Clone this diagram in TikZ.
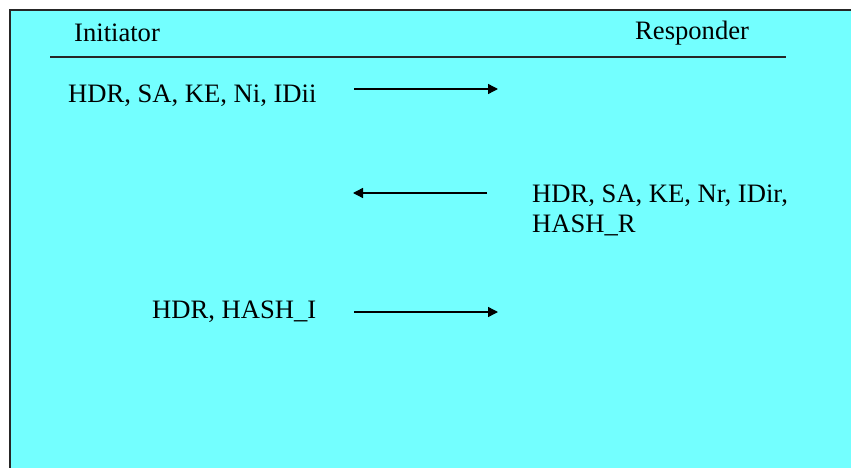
\documentclass[tikz,border=0pt]{standalone}
\usepackage{fontspec}
\setmainfont{Liberation Serif}
\usetikzlibrary{arrows.meta}
\definecolor{bgcyan}{RGB}{115,255,255}
\begin{document}
\begin{tikzpicture}[x=1pt,y=-1pt,
  lbl/.style={anchor=base west,inner sep=0pt,font=\fontsize{26.6}{30}\selectfont},
  msg/.style={line width=1.4pt,-{Triangle[length=10pt,width=10pt]}},
  frame/.style={line width=2pt,draw=black!85}]
\useasboundingbox (0,0) rectangle (851,468);
\fill[bgcyan] (10,10) rectangle (851,468);
\draw[frame] (10,468) -- (10,10) -- (851,10);
% headers
\node[lbl] (init) at (74,42) {Initiator};
\node[lbl] (resp) at (635,40) {Responder};
\coordinate (hl) at (50,57);
\coordinate (hr) at (786,57);
\draw[line width=1.5pt,draw=black!85] (hl) -- (hr);
% message 1
\node[lbl] (m1) at (68,103) {HDR, SA, KE, Ni, IDii};
\coordinate (a1s) at (354,89);
\coordinate (a1e) at (498,89);
\draw[msg] (a1s) -- (a1e);
% message 2
\node[lbl] (m2) at (532,202) {HDR, SA, KE, Nr, IDir,};
\node[lbl] (m2b) at (532,232) {HASH\_R};
\coordinate (a2s) at (487,193);
\coordinate (a2e) at (353,193);
\draw[msg] (a2s) -- (a2e);
% message 3
\node[lbl] (m3) at (152,318) {HDR, HASH\_I};
\coordinate (a3s) at (354,312);
\coordinate (a3e) at (498,312);
\draw[msg] (a3s) -- (a3e);
\end{tikzpicture}
\end{document}
